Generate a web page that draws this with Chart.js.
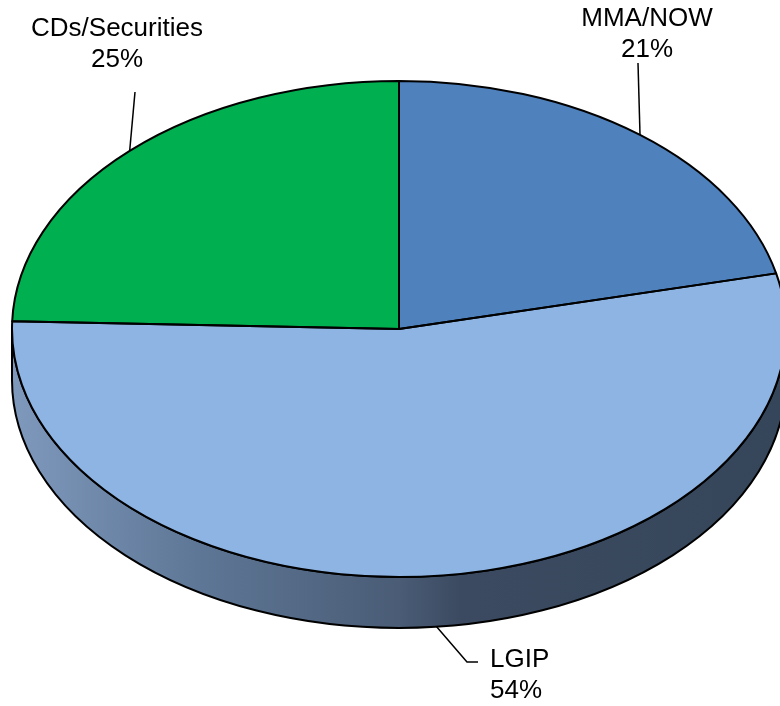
<!DOCTYPE html>
<html><head><meta charset="utf-8">
<script src="https://cdn.jsdelivr.net/npm/chart.js@4/dist/chart.umd.min.js"></script>
<style>html,body{margin:0;padding:0;background:#fff;overflow:hidden}#c{display:block}</style>
</head><body>
<canvas id="c" width="780" height="706"></canvas>
<script>
// ---- data ----
const categories = ['MMA/NOW', 'LGIP', 'CDs/Securities'];
const shares = [21.4, 54.1, 24.5];
const topColors = ['#4f81bd', '#8db4e3', '#00b050'];

// ---- layout / style ----
const CX = 399, CY = 329, RX = 387, RY = 248, DEPTH = 51;
const FONT = '26px "Liberation Sans", Arial, sans-serif';
const LINE_GAP = 31;
const sideStops = [
  [[0, '#3f5f8c'], [1, '#2a3f5e']],
  [[0, '#7f99bd'], [0.24, '#5e7796'], [0.5, '#4a5c76'], [0.58, '#3b4a60'], [1, '#36465a']],
  [[0, '#00843c'], [1, '#005a29']]
];
const labelLayout = [
  { x: 647, y: 26, align: 'center', path: [[638, 63]] },
  { x: 490, y: 667, align: 'left', path: [[467, 662], [478, 662]] },
  { x: 117, y: 36, align: 'center', path: [[135, 92]] }
];

function frontSegments(s, e) {
  const out = [];
  for (const k of [-2 * Math.PI, 0, 2 * Math.PI]) {
    const lo = Math.max(s, k), hi = Math.min(e, k + Math.PI);
    if (hi - lo > 1e-4) out.push([lo, hi]);
  }
  return out;
}

const pie3d = {
  id: 'pie3d',
  beforeDatasetsDraw(chart) {
    const ctx = chart.ctx;
    const arcs = chart.getDatasetMeta(0).data;
    const ax = arcs[0].x, ay = arcs[0].y, R = arcs[0].outerRadius;
    const sx = RX / R, sy = RY / R;
    const base = ctx.getTransform();
    chart.$g = { ax, ay, R, sx, sy, base };
    ctx.save();
    ctx.translate(CX, CY); ctx.scale(sx, sy); ctx.translate(-ax, -ay);
    const dd = DEPTH / sy;
    arcs.forEach((arc, i) => {
      frontSegments(arc.startAngle, arc.endAngle).forEach(([s, e]) => {
        const g = ctx.createLinearGradient(ax - R, 0, ax + R, 0);
        sideStops[i].forEach(([o, c]) => g.addColorStop(o, c));
        ctx.beginPath();
        ctx.arc(ax, ay, R, s, e);
        ctx.arc(ax, ay + dd, R, e, s, true);
        ctx.closePath();
        ctx.fillStyle = g;
        ctx.fill();
        ctx.save();
        ctx.setTransform(base);
        ctx.lineWidth = 2; ctx.strokeStyle = '#000'; ctx.lineJoin = 'round';
        ctx.stroke();
        ctx.restore();
      });
    });
  },
  afterDatasetsDraw(chart) {
    const ctx = chart.ctx;
    ctx.restore();
    const { ax, ay, R, sx, sy } = chart.$g;
    const arcs = chart.getDatasetMeta(0).data;
    // slice outlines
    arcs.forEach(arc => {
      ctx.save();
      ctx.translate(CX, CY); ctx.scale(sx, sy); ctx.translate(-ax, -ay);
      ctx.beginPath();
      ctx.moveTo(ax, ay);
      ctx.arc(ax, ay, R, arc.startAngle, arc.endAngle);
      ctx.closePath();
      ctx.restore();
      ctx.lineWidth = 2; ctx.strokeStyle = '#000'; ctx.lineJoin = 'round';
      ctx.stroke();
    });
    // labels with leader lines
    ctx.save();
    ctx.font = FONT;
    ctx.fillStyle = '#000';
    ctx.textBaseline = 'alphabetic';
    arcs.forEach((arc, i) => {
      const mid = (arc.startAngle + arc.endAngle) / 2;
      let px = CX + Math.cos(mid) * RX;
      let py = CY + Math.sin(mid) * RY;
      if (Math.sin(mid) > 0) py += DEPTH;
      const L = labelLayout[i];
      ctx.beginPath();
      ctx.moveTo(px, py);
      L.path.forEach(([x, y]) => ctx.lineTo(x, y));
      ctx.lineWidth = 1.5; ctx.strokeStyle = '#000';
      ctx.stroke();
      ctx.textAlign = L.align;
      ctx.fillText(chart.data.labels[i], L.x, L.y);
      ctx.fillText(Math.round(chart.data.datasets[0].data[i]) + '%', L.x, L.y + LINE_GAP);
    });
    ctx.restore();
  }
};

new Chart(document.getElementById('c'), {
  type: 'pie',
  data: {
    labels: categories,
    datasets: [{
      data: shares,
      backgroundColor: topColors,
      borderWidth: 0,
      clip: false
    }]
  },
  options: {
    responsive: false,
    devicePixelRatio: 1,
    animation: false,
    events: [],
    layout: { padding: 0 },
    plugins: { legend: { display: false }, tooltip: { enabled: false }, title: { display: false } }
  },
  plugins: [pie3d]
});
</script>
</body></html>
